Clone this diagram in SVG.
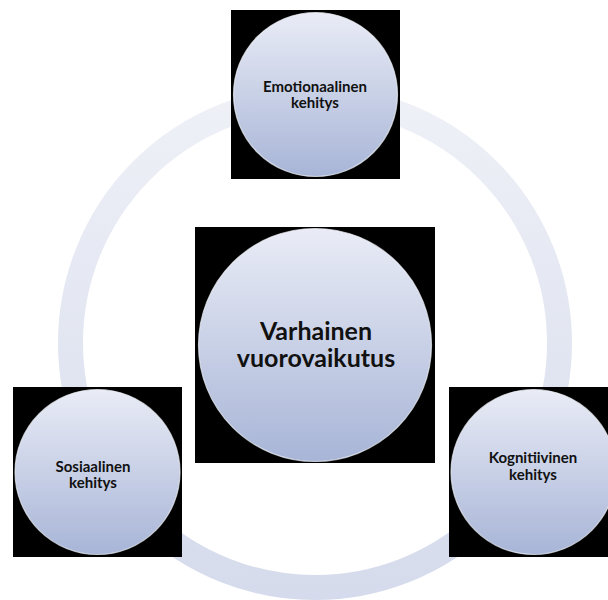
<svg xmlns="http://www.w3.org/2000/svg" width="608" height="600" viewBox="0 0 608 600">
<defs>
<linearGradient id="ringGrad" gradientUnits="userSpaceOnUse" x1="0" y1="86" x2="0" y2="600">
<stop offset="0" stop-color="#eff1f7"/>
<stop offset="1" stop-color="#d5dbec"/>
</linearGradient>
<linearGradient id="nodeGrad" x1="0" y1="0" x2="0" y2="1">
<stop offset="0" stop-color="#e9ecf6"/>
<stop offset="1" stop-color="#a8b5d7"/>
</linearGradient>
</defs>
<style>
.bg{fill:#000}
.disc{fill:url(#nodeGrad);stroke:#f4f6fb;stroke-opacity:0.7;stroke-width:1.2}
.t{font-family:Lato,"Open Sans","Liberation Sans",sans-serif;font-weight:700;fill:#111;text-anchor:middle}
.s{font-size:15px}
.b{font-size:25px}
</style>
<rect width="608" height="600" fill="#fff"/>
<g id="connectors">
<circle cx="315" cy="343" r="244.5" fill="none" stroke="url(#ringGrad)" stroke-width="25"/>
</g>
<g id="node-emotionaalinen">
<rect class="bg" x="231" y="10" width="169" height="169"/>
<circle class="disc" cx="315.5" cy="94.5" r="82"/>
<text class="t s" x="315"><tspan x="315" y="92">Emotionaalinen</tspan><tspan x="315" y="108">kehitys</tspan></text>
</g>
<g id="node-varhainen">
<rect class="bg" x="195" y="227" width="240" height="236"/>
<circle class="disc" cx="315" cy="345" r="116.5"/>
<text class="t b" x="316"><tspan x="316" y="340">Varhainen</tspan><tspan x="316" y="367">vuorovaikutus</tspan></text>
</g>
<g id="node-sosiaalinen">
<rect class="bg" x="13" y="387" width="169" height="170"/>
<circle class="disc" cx="97.5" cy="472" r="82.5"/>
<text class="t s" x="93"><tspan x="93" y="472">Sosiaalinen</tspan><tspan x="93" y="488">kehitys</tspan></text>
</g>
<g id="node-kognitiivinen">
<rect class="bg" x="449" y="387" width="169" height="170"/>
<circle class="disc" cx="533.5" cy="472" r="82.5"/>
<text class="t s" x="533"><tspan x="533" y="463">Kognitiivinen</tspan><tspan x="533" y="480">kehitys</tspan></text>
</g>
</svg>
